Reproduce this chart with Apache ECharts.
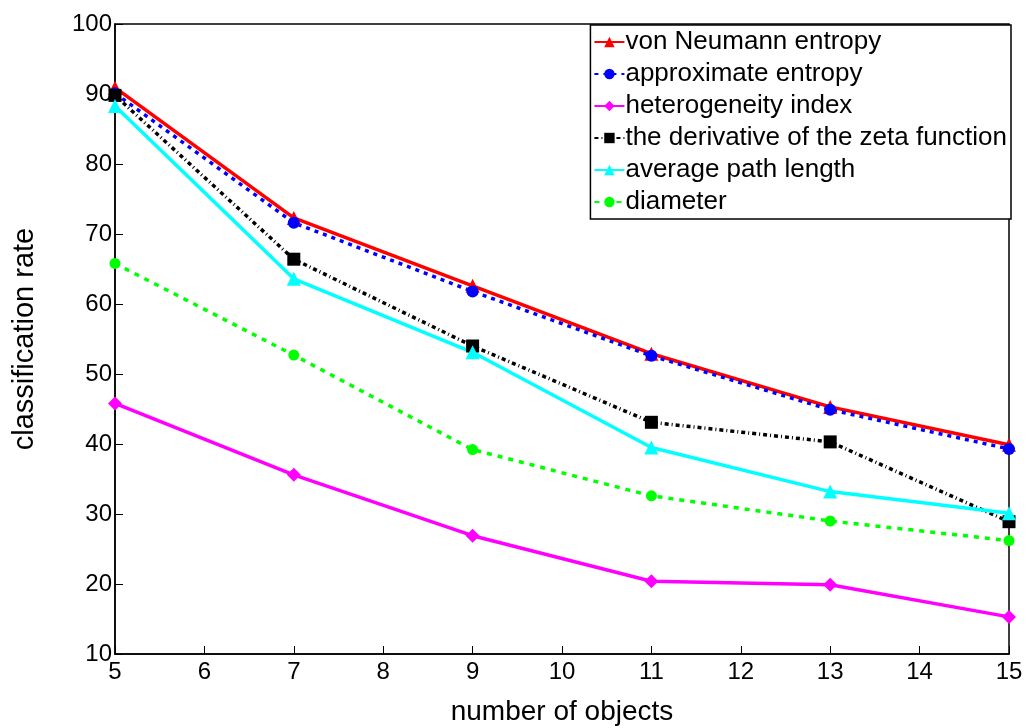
<!DOCTYPE html>
<html><head><meta charset="utf-8">
<script src="https://cdn.jsdelivr.net/npm/echarts@6/dist/echarts.min.js"></script>
<style>html,body{margin:0;padding:0;background:#fff}#c{width:1026px;height:728px}</style>
</head><body><div id="c"></div>
<script>
const xValues = [5, 7, 9, 11, 13, 15];
const vonNeumann = [90.9, 72.3, 62.6, 52.9, 45.3, 39.9];
const approxEntropy = [90.1, 71.6, 61.8, 52.6, 44.9, 39.3];
const heterogeneity = [45.8, 35.6, 26.9, 20.4, 19.9, 15.3];
const zetaDerivative = [89.8, 66.4, 54.0, 43.1, 40.3, 28.9];
const avgPathLength = [88.3, 63.6, 53.1, 39.5, 33.2, 30.1];
const diameter = [65.8, 52.7, 39.2, 32.6, 29.0, 26.2];
const seriesNames = ['von Neumann entropy','approximate entropy','heterogeneity index','the derivative of the zeta function','average path length','diameter'];

const pairs = arr => xValues.map((x, i) => [x, arr[i]]);
const font = 'Liberation Sans, Arial, sans-serif';
const chart = echarts.init(document.getElementById('c'));
function s(name, data, color, lineType, symbol, size) {
  return { name, type: 'line', data: pairs(data), symbol, symbolSize: size,
    lineStyle: { color, width: 3.5, type: lineType }, itemStyle: { color },
    emphasis: { disabled: true }, z: 3 };
}
chart.setOption({
  animation: false,
  grid: { left: 115, right: 17, top: 24, bottom: 74, show: true, borderColor: '#000', borderWidth: 1.5,
    containLabel: false, outerBoundsMode: 'none' },
  legend: {
    orient: 'vertical', right: 15, top: 25,
    padding: [4, 4, 4, 3], itemGap: 6, itemWidth: 30, itemHeight: 13,
    borderColor: '#000', borderWidth: 1.5, backgroundColor: '#fff',
    textStyle: { fontFamily: font, fontSize: 26, color: '#000', padding: [0, 0, 0, -4] },
    data: seriesNames
  },
  xAxis: {
    type: 'value', min: 5, max: 15, interval: 1,
    name: 'number of objects', nameLocation: 'middle', nameGap: 44,
    nameTextStyle: { fontFamily: font, fontSize: 28, color: '#000' },
    axisLine: { lineStyle: { color: '#000', width: 1.5 } },
    axisTick: { inside: true, length: 8, lineStyle: { color: '#000' } },
    axisLabel: { fontFamily: font, fontSize: 24, color: '#000', margin: 6 },
    splitLine: { show: false }
  },
  yAxis: {
    type: 'value', min: 10, max: 100, interval: 10,
    name: 'classification rate', nameLocation: 'middle', nameGap: 76,
    nameTextStyle: { fontFamily: font, fontSize: 29, color: '#000' },
    axisLine: { show: true, lineStyle: { color: '#000', width: 1.5 } },
    axisTick: { show: true, inside: true, length: 8, lineStyle: { color: '#000' } },
    axisLabel: { fontFamily: font, fontSize: 24, color: '#000', margin: 3 },
    splitLine: { show: false }
  },
  series: [
    s(seriesNames[0], vonNeumann, '#ff0000', 'solid', 'triangle', 14),
    s(seriesNames[1], approxEntropy, '#0000ff', [4, 5], 'circle', 12),
    s(seriesNames[2], heterogeneity, '#ff00ff', 'solid', 'diamond', 14),
    s(seriesNames[3], zetaDerivative, '#000000', [4, 3, 1, 3], 'rect', 13),
    s(seriesNames[4], avgPathLength, '#00ffff', 'solid', 'triangle', 14),
    s(seriesNames[5], diameter, '#00ff00', [5, 6], 'circle', 11)
  ]
});
</script></body></html>
